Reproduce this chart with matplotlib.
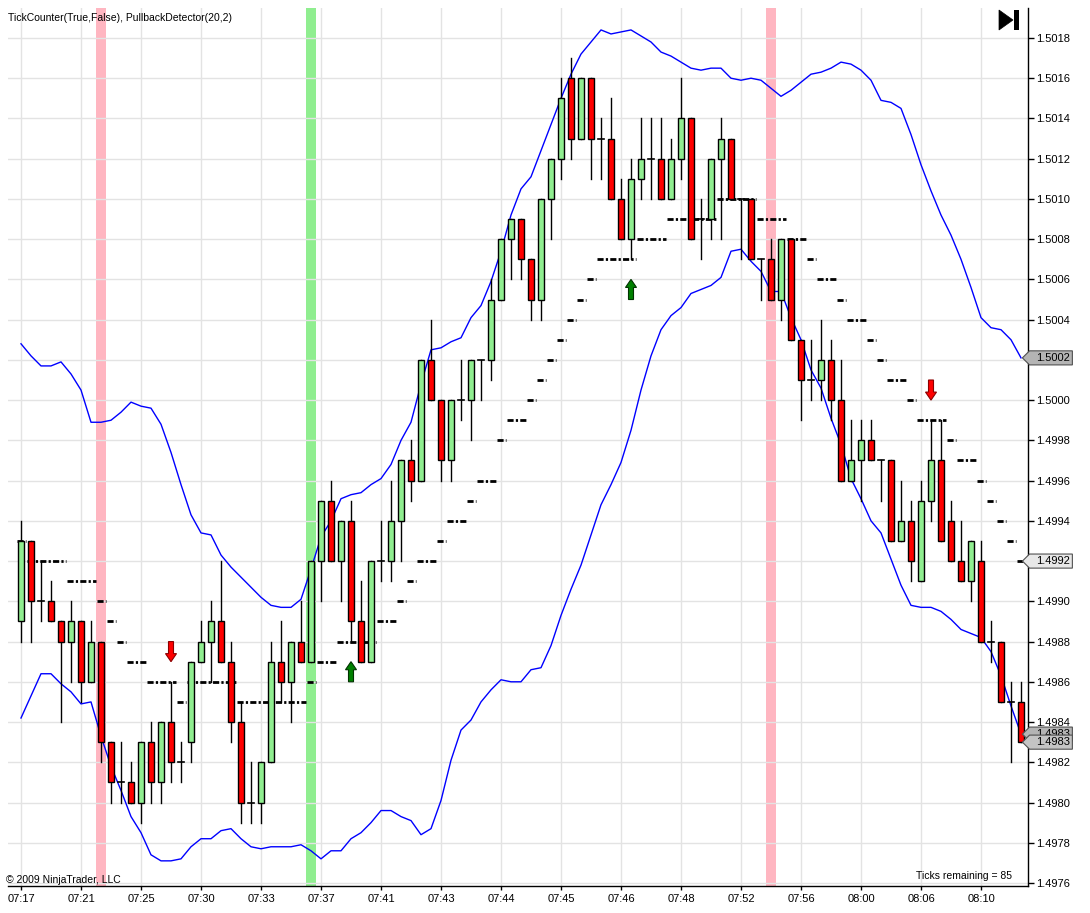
import matplotlib
matplotlib.use("Agg")
import matplotlib.pyplot as plt
import matplotlib.transforms as mtransforms
from matplotlib.patches import Rectangle, Polygon

plt.rcParams["font.family"] = ["Liberation Sans", "DejaVu Sans"]

# OHLC, one entry per 1-tick-range bar
opens = [1.4989, 1.4993, 1.4990, 1.4990, 1.4989, 1.4988, 1.4989, 1.4986, 1.4988, 1.4983,
         1.4981, 1.4981, 1.4980, 1.4983, 1.4981, 1.4984, 1.4982, 1.4983, 1.4987, 1.4988,
         1.4989, 1.4987, 1.4984, 1.4980, 1.4980, 1.4982, 1.4987, 1.4986, 1.4988, 1.4987,
         1.4992, 1.4995, 1.4992, 1.4994, 1.4989, 1.4987, 1.4992, 1.4992, 1.4994, 1.4997,
         1.4996, 1.5002, 1.5000, 1.4997, 1.5000, 1.5000, 1.5002, 1.5002, 1.5005, 1.5008,
         1.5009, 1.5007, 1.5005, 1.5010, 1.5012, 1.5016, 1.5013, 1.5016, 1.5013, 1.5013,
         1.5010, 1.5008, 1.5011, 1.5012, 1.5012, 1.5010, 1.5012, 1.5014, 1.5009, 1.5009,
         1.5012, 1.5013, 1.5010, 1.5010, 1.5007, 1.5007, 1.5005, 1.5008, 1.5003, 1.5001,
         1.5001, 1.5002, 1.5000, 1.4996, 1.4997, 1.4998, 1.4997, 1.4997, 1.4993, 1.4994,
         1.4991, 1.4995, 1.4997, 1.4994, 1.4992, 1.4991, 1.4992, 1.4988, 1.4988, 1.4985,
         1.4985]
highs = [1.4994, 1.4993, 1.4992, 1.4991, 1.4989, 1.4990, 1.4989, 1.4989, 1.4988, 1.4983,
         1.4983, 1.4982, 1.4983, 1.4984, 1.4984, 1.4986, 1.4983, 1.4987, 1.4989, 1.4990,
         1.4992, 1.4988, 1.4985, 1.4982, 1.4982, 1.4988, 1.4989, 1.4988, 1.4990, 1.4992,
         1.4995, 1.4996, 1.4994, 1.4995, 1.4991, 1.4992, 1.4994, 1.4996, 1.4997, 1.4998,
         1.5002, 1.5004, 1.5000, 1.5000, 1.5002, 1.5002, 1.5002, 1.5006, 1.5008, 1.5009,
         1.5009, 1.5007, 1.5010, 1.5012, 1.5016, 1.5017, 1.5016, 1.5016, 1.5014, 1.5015,
         1.5011, 1.5012, 1.5014, 1.5014, 1.5014, 1.5013, 1.5016, 1.5014, 1.5010, 1.5012,
         1.5014, 1.5013, 1.5010, 1.5010, 1.5007, 1.5008, 1.5008, 1.5008, 1.5003, 1.5003,
         1.5004, 1.5003, 1.5002, 1.4999, 1.4999, 1.4999, 1.4997, 1.4997, 1.4996, 1.4995,
         1.4996, 1.4999, 1.4999, 1.4995, 1.4994, 1.4993, 1.4993, 1.4989, 1.4988, 1.4986,
         1.4986]
lows = [1.4988, 1.4988, 1.4989, 1.4989, 1.4984, 1.4986, 1.4985, 1.4986, 1.4982, 1.4980,
        1.4980, 1.4980, 1.4979, 1.4980, 1.4980, 1.4981, 1.4981, 1.4982, 1.4987, 1.4986,
        1.4987, 1.4983, 1.4979, 1.4979, 1.4979, 1.4982, 1.4985, 1.4984, 1.4987, 1.4987,
        1.4990, 1.4992, 1.4990, 1.4988, 1.4987, 1.4987, 1.4991, 1.4991, 1.4992, 1.4995,
        1.4996, 1.5000, 1.4996, 1.4996, 1.4999, 1.4998, 1.5000, 1.5001, 1.5005, 1.5006,
        1.5006, 1.5004, 1.5004, 1.5008, 1.5011, 1.5012, 1.5013, 1.5011, 1.5011, 1.5010,
        1.5008, 1.5007, 1.5010, 1.5010, 1.5010, 1.5010, 1.5011, 1.5008, 1.5007, 1.5008,
        1.5008, 1.5010, 1.5007, 1.5007, 1.5005, 1.5005, 1.5004, 1.5003, 1.4999, 1.5000,
        1.5000, 1.4999, 1.4996, 1.4996, 1.4995, 1.4997, 1.4995, 1.4993, 1.4993, 1.4991,
        1.4991, 1.4994, 1.4993, 1.4992, 1.4991, 1.4990, 1.4988, 1.4987, 1.4985, 1.4982,
        1.4983]
closes = [1.4993, 1.4990, 1.4990, 1.4989, 1.4988, 1.4989, 1.4986, 1.4988, 1.4983, 1.4981,
          1.4981, 1.4980, 1.4983, 1.4981, 1.4984, 1.4982, 1.4982, 1.4987, 1.4988, 1.4989,
          1.4987, 1.4984, 1.4980, 1.4980, 1.4982, 1.4987, 1.4986, 1.4988, 1.4987, 1.4992,
          1.4995, 1.4992, 1.4994, 1.4989, 1.4987, 1.4992, 1.4992, 1.4994, 1.4997, 1.4996,
          1.5002, 1.5000, 1.4997, 1.5000, 1.5000, 1.5002, 1.5002, 1.5005, 1.5008, 1.5009,
          1.5007, 1.5005, 1.5010, 1.5012, 1.5015, 1.5013, 1.5016, 1.5013, 1.5013, 1.5010,
          1.5008, 1.5011, 1.5012, 1.5012, 1.5010, 1.5012, 1.5014, 1.5008, 1.5009, 1.5012,
          1.5013, 1.5010, 1.5010, 1.5007, 1.5007, 1.5005, 1.5008, 1.5003, 1.5001, 1.5001,
          1.5002, 1.5000, 1.4996, 1.4997, 1.4998, 1.4997, 1.4997, 1.4993, 1.4994, 1.4992,
          1.4995, 1.4997, 1.4993, 1.4992, 1.4991, 1.4993, 1.4988, 1.4988, 1.4985, 1.4985,
          1.4983]

upper_band = [1.50028, 1.50022, 1.50017, 1.50017, 1.50019, 1.50013, 1.50005, 1.49989, 1.49989, 1.49990,
              1.49994, 1.49999, 1.49997, 1.49996, 1.49988, 1.49974, 1.49958, 1.49943, 1.49934, 1.49933,
              1.49923, 1.49917, 1.49912, 1.49907, 1.49902, 1.49898, 1.49897, 1.49897, 1.49901, 1.49916,
              1.49932, 1.49940, 1.49951, 1.49953, 1.49954, 1.49958, 1.49961, 1.49968, 1.49980, 1.49989,
              1.50008, 1.50025, 1.50026, 1.50029, 1.50031, 1.50041, 1.50047, 1.50059, 1.50074, 1.50092,
              1.50105, 1.50111, 1.50124, 1.50137, 1.50150, 1.50162, 1.50172, 1.50178, 1.50184, 1.50182,
              1.50183, 1.50184, 1.50181, 1.50178, 1.50173, 1.50171, 1.50168, 1.50165, 1.50164, 1.50165,
              1.50165, 1.50160, 1.50159, 1.50160, 1.50159, 1.50155, 1.50151, 1.50154, 1.50158, 1.50162,
              1.50163, 1.50165, 1.50168, 1.50167, 1.50164, 1.50159, 1.50149, 1.50148, 1.50145, 1.50132,
              1.50117, 1.50104, 1.50092, 1.50082, 1.50070, 1.50056, 1.50041, 1.50036, 1.50035, 1.50030,
              1.50021]
lower_band = [1.49842, 1.49853, 1.49864, 1.49864, 1.49859, 1.49855, 1.49849, 1.49850, 1.49833, 1.49818,
              1.49806, 1.49793, 1.49785, 1.49774, 1.49771, 1.49771, 1.49772, 1.49778, 1.49782, 1.49782,
              1.49786, 1.49787, 1.49782, 1.49778, 1.49777, 1.49778, 1.49778, 1.49778, 1.49779, 1.49776,
              1.49772, 1.49776, 1.49776, 1.49782, 1.49785, 1.49790, 1.49796, 1.49796, 1.49793, 1.49791,
              1.49784, 1.49787, 1.49801, 1.49821, 1.49836, 1.49841, 1.49850, 1.49856, 1.49861, 1.49860,
              1.49860, 1.49866, 1.49867, 1.49878, 1.49893, 1.49906, 1.49918, 1.49933, 1.49948, 1.49958,
              1.49969, 1.49985, 1.50005, 1.50022, 1.50035, 1.50042, 1.50046, 1.50053, 1.50055, 1.50057,
              1.50061, 1.50074, 1.50075, 1.50069, 1.50064, 1.50054, 1.50054, 1.50041, 1.50030, 1.50015,
              1.50006, 1.49991, 1.49978, 1.49961, 1.49951, 1.49940, 1.49934, 1.49921, 1.49908, 1.49898,
              1.49897, 1.49897, 1.49895, 1.49891, 1.49886, 1.49884, 1.49882, 1.49875, 1.49863, 1.49848,
              1.49834]
# PullbackDetector trailing level per bar
trail_stop = [1.4993, 1.4992, 1.4992, 1.4992, 1.4992, 1.4991, 1.4991, 1.4991, 1.4990, 1.4989,
              1.4988, 1.4987, 1.4987, 1.4986, 1.4986, 1.4986, 1.4985, 1.4986, 1.4986, 1.4986,
              1.4986, 1.4986, 1.4985, 1.4985, 1.4985, 1.4985, 1.4985, 1.4985, 1.4985, 1.4986,
              1.4987, 1.4987, 1.4988, 1.4988, 1.4988, 1.4988, 1.4989, 1.4989, 1.4990, 1.4991,
              1.4992, 1.4992, 1.4993, 1.4994, 1.4994, 1.4995, 1.4996, 1.4996, 1.4998, 1.4999,
              1.4999, 1.5000, 1.5001, 1.5002, 1.5003, 1.5004, 1.5005, 1.5006, 1.5007, 1.5007,
              1.5007, 1.5007, 1.5008, 1.5008, 1.5008, 1.5009, 1.5009, 1.5009, 1.5009, 1.5009,
              1.5010, 1.5010, 1.5010, 1.5010, 1.5009, 1.5009, 1.5009, 1.5008, 1.5008, 1.5007,
              1.5006, 1.5006, 1.5005, 1.5004, 1.5004, 1.5003, 1.5002, 1.5001, 1.5001, 1.5000,
              1.4999, 1.4999, 1.4999, 1.4998, 1.4997, 1.4997, 1.4996, 1.4995, 1.4994, 1.4993,
              1.4992]

time_labels = ["07:17", "07:21", "07:25", "07:30", "07:33", "07:37", "07:41", "07:43", "07:44",
               "07:45", "07:46", "07:48", "07:52", "07:56", "08:00", "08:06", "08:10"]
pink_bars = [8, 75]
green_bars = [29]
# (bar, tail price, tip price)
up_arrows = [(33, 1.4986, 1.4987), (61, 1.5005, 1.5006)]
down_arrows = [(15, 1.4988, 1.4987), (91, 1.5001, 1.5000)]

n = len(opens)
price_ticks = [1.4976 + 0.0002 * k for k in range(22)]

fig = plt.figure(figsize=(10.9, 9.13), dpi=100)
ax = fig.add_axes([8 / 1090, 1 - 886 / 913, 1020 / 1090, 878 / 913])
ax.set_xlim(-1.3, 100.7)
ax.set_ylim(1.497585, 1.501949)

# grid
for p in price_ticks:
    ax.axhline(p, color="#e3e3e3", lw=1, zorder=0.5)
tick_pos = list(range(0, n, 6))[:len(time_labels)]
for b in tick_pos:
    ax.axvline(b, color="#e3e3e3", lw=1, zorder=0.5)

for b in pink_bars:
    ax.axvspan(b - 0.5, b + 0.5, color="#ffb6c1", lw=0, zorder=0.3)
for b in green_bars:
    ax.axvspan(b - 0.5, b + 0.5, color="#90ee90", lw=0, zorder=0.3)

# bands
xs = list(range(n))
ax.plot(xs, upper_band, color="#0000ff", lw=1, zorder=2)
ax.plot(xs, lower_band, color="#0000ff", lw=1, zorder=2)

# trailing level, grouped in runs of equal value
start = 0
for i in range(1, n + 1):
    if i == n or trail_stop[i] != trail_stop[start]:
        lvl = trail_stop[start]
        ax.plot([start - 0.4, i - 1 + 0.5], [lvl, lvl], color="black", lw=2,
                ls=(0, (2.2, 0.8, 0.8, 0.8)), dash_capstyle="butt", zorder=2.5)
        start = i

# candles
bw = 0.62
for i in range(n):
    o, h, l, c = opens[i], highs[i], lows[i], closes[i]
    ax.plot([i, i], [l, h], color="black", lw=1, zorder=3)
    if abs(c - o) < 1e-7:
        ax.plot([i - bw / 2, i + bw / 2], [o, o], color="black", lw=1.2, zorder=4)
    else:
        col = "#90ee90" if c > o else "#ff0000"
        ax.add_patch(Rectangle((i - bw / 2, min(o, c)), bw, abs(c - o), facecolor=col,
                               edgecolor="black", lw=1, zorder=4))


def arrow(bar, tail, tip, fc, ec):
    sw, hw, hl = 0.5, 1.1, 0.00004
    d = 1 if tip > tail else -1
    neck = tip - d * hl
    pts = [(bar - sw / 2, tail), (bar + sw / 2, tail), (bar + sw / 2, neck), (bar + hw / 2, neck),
           (bar, tip), (bar - hw / 2, neck), (bar - sw / 2, neck)]
    ax.add_patch(Polygon(pts, closed=True, facecolor=fc, edgecolor=ec, lw=0.8, zorder=5))


for b, t0, t1 in up_arrows:
    arrow(b, t0, t1, "#008000", "#003300")
for b, t0, t1 in down_arrows:
    arrow(b, t0, t1, "#ff0000", "#8b0000")

# last value markers on the price axis
hh = 0.000035
markers = [(upper_band[-1], "#b4b4b4"), (trail_stop[-1], "#e8e8e8"),
           (lower_band[-1], "#b4b4b4"), (closes[-1], "#c4c4c4")]
covered = {round(v, 4) for v, _ in markers}

# axes styling
ax.yaxis.tick_right()
ax.set_yticks(price_ticks)
ax.set_yticklabels(["" if round(p, 4) in covered else f"{p:.4f}" for p in price_ticks], fontsize=8)
ax.set_xticks(tick_pos)
ax.set_xticklabels(time_labels, fontsize=8)
ax.tick_params(axis="y", direction="out", length=4, width=1, pad=2)
ax.tick_params(axis="x", direction="out", length=3, width=1, pad=3)
for s in ["left", "top"]:
    ax.spines[s].set_visible(False)
ax.spines["right"].set_linewidth(1)
ax.spines["bottom"].set_linewidth(1)

trans = mtransforms.blended_transform_factory(ax.transAxes, ax.transData)
for k, (val, fc) in enumerate(markers):
    pts = [(0.9945, val), (1.0015, val + hh), (1.0435, val + hh), (1.0435, val - hh), (1.0015, val - hh)]
    ax.add_patch(Polygon(pts, closed=True, transform=trans, facecolor=fc, edgecolor="#505050",
                         lw=0.8, clip_on=False, zorder=10 + k))
    ax.text(1.0075, val, f"{val:.4f}", transform=trans, fontsize=8, va="center", ha="left",
            zorder=10 + k, clip_on=False)

# texts
fig.text(8 / 1090, 1 - 18 / 913, "TickCounter(True,False), PullbackDetector(20,2)", fontsize=7.5,
         va="center", ha="left")
fig.text(6 / 1090, 1 - 880 / 913, "© 2009 NinjaTrader, LLC", fontsize=7.5, va="center", ha="left")
fig.text(1012 / 1090, 1 - 876 / 913, "Ticks remaining = 85", fontsize=7.5, va="center", ha="right")

# play-to-end icon
tri = [(999 / 1090, 1 - 10 / 913), (1013 / 1090, 1 - 20 / 913), (999 / 1090, 1 - 30 / 913)]
fig.patches.append(Polygon(tri, closed=True, transform=fig.transFigure, facecolor="black",
                           edgecolor="black", lw=0.5))
fig.patches.append(Rectangle((1014 / 1090, 1 - 30 / 913), 5 / 1090, 20 / 913,
                             transform=fig.transFigure, facecolor="black", edgecolor="none"))

fig.savefig("out.png", dpi=100)
